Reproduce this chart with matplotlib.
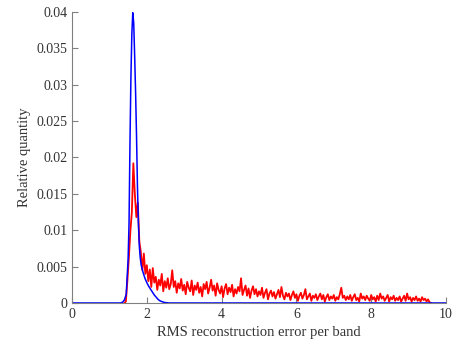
import numpy as np
import matplotlib
matplotlib.use("Agg")
import matplotlib.pyplot as plt

plt.rcParams['font.family'] = ['Liberation Serif', 'DejaVu Serif']

# Blue smooth distribution
blue_x = [0.0, 1.30, 1.35, 1.40, 1.45, 1.50, 1.525, 1.55, 1.575, 1.60, 1.625, 1.65,
          1.675, 1.70, 1.725, 1.75, 1.775, 1.80, 1.825, 1.85, 1.90, 1.95, 2.00,
          2.05, 2.10, 2.15, 2.20, 2.25, 2.30, 2.35, 2.40, 2.45, 2.50, 2.60, 10.0]
blue_y = [0.0, 0.0, 0.0001, 0.0004, 0.0012, 0.0060, 0.0110, 0.0220, 0.0310, 0.0370,
          0.0399, 0.0385, 0.0340, 0.0290, 0.0230, 0.0160, 0.0110, 0.0078, 0.0062,
          0.0052, 0.0042, 0.0034, 0.0028, 0.0023, 0.0019, 0.0015, 0.0011, 0.0008,
          0.0005, 0.0003, 0.0002, 0.0001, 0.00005, 0.0, 0.0]

# Red noisy histogram (bins of 0.04 starting at 1.40)
red_start = 1.40
red_step = 0.04
red_values = [
    0.0, 0.0002, 0.0030, 0.0062, 0.0098, 0.0125, 0.0192, 0.0150, 0.0118, 0.0138,
    0.0085, 0.0070, 0.0045, 0.0068, 0.0040, 0.0052, 0.0030, 0.0046, 0.0022, 0.0048,
    0.0028, 0.0036, 0.0018, 0.0032, 0.0024, 0.0040, 0.0016, 0.0030, 0.0021, 0.0034,
    0.0019, 0.0026, 0.0045, 0.0022, 0.0030, 0.0014, 0.0027, 0.0020, 0.0033, 0.0017,
    0.0025, 0.0012, 0.0029, 0.0021, 0.0016, 0.0031, 0.0011, 0.0024, 0.0018, 0.0028,
    0.0014, 0.0022, 0.0009, 0.0026, 0.0019, 0.0029, 0.0013, 0.0021, 0.0032, 0.0017,
    0.0024, 0.0010, 0.0027, 0.0018, 0.0013, 0.0023, 0.0008, 0.0020, 0.0026, 0.0012,
    0.0021, 0.0015, 0.0025, 0.0009, 0.0019, 0.0013, 0.0022, 0.0016, 0.0034, 0.0011,
    0.0018, 0.0024, 0.0010, 0.0020, 0.0007, 0.0017, 0.0023, 0.0012, 0.0019, 0.0009,
    0.0016, 0.0011, 0.0021, 0.0007, 0.0014, 0.0019, 0.0005, 0.0013, 0.0017, 0.0009,
    0.0015, 0.0006, 0.0012, 0.0018, 0.0008, 0.0022, 0.0010, 0.0005, 0.0014, 0.0009,
    0.0013, 0.0004, 0.0011, 0.0016, 0.0007, 0.0012, 0.0003, 0.0010, 0.0014, 0.0006,
    0.0011, 0.0019, 0.0005, 0.0009, 0.0013, 0.0003, 0.0010, 0.0007, 0.0012, 0.0004,
    0.0009, 0.0013, 0.0005, 0.0011, 0.0002, 0.0008, 0.0012, 0.0004, 0.0009, 0.0006,
    0.0011, 0.0003, 0.0008, 0.0005, 0.0012, 0.0021, 0.0007, 0.0010, 0.0004, 0.0009,
    0.0005, 0.0011, 0.0003, 0.0008, 0.0012, 0.0004, 0.0007, 0.0002, 0.0013, 0.0006,
    0.0009, 0.0004, 0.0010, 0.0006, 0.0003, 0.0011, 0.0005, 0.0008, 0.0002, 0.0010,
    0.0004, 0.0013, 0.0006, 0.0009, 0.0003, 0.0007, 0.0011, 0.0002, 0.0008, 0.0005,
    0.0010, 0.0003, 0.0007, 0.0004, 0.0009, 0.0002, 0.0006, 0.0010, 0.0003, 0.0013,
    0.0005, 0.0008, 0.0002, 0.0007, 0.0004, 0.0009, 0.0003, 0.0006, 0.0002, 0.0008,
    0.0004, 0.0006, 0.0002, 0.0005, 0.0001, 0.0,
]

x_ticks = [0, 2, 4, 6, 8, 10]
y_ticks = [0, 0.005, 0.01, 0.015, 0.02, 0.025, 0.03, 0.035, 0.04]
y_tick_labels = ['0', '0.005', '0.01', '0.015', '0.02', '0.025', '0.03', '0.035', '0.04']

red_x = red_start + red_step * np.arange(len(red_values))

fig = plt.figure(figsize=(4.54, 3.51), dpi=100)
ax = fig.add_axes([0.1586, 0.1368, 0.8238, 0.829])

ax.plot(red_x, red_values, color='#ff0000', lw=1.3)
ax.plot(blue_x, blue_y, color='#0000ff', lw=1.1)

ax.set_xlim(0, 10)
ax.set_ylim(0, 0.04)
ax.set_xticks(x_ticks)
ax.set_yticks(y_ticks)
ax.set_yticklabels(y_tick_labels)

for s in ['top', 'right']:
    ax.spines[s].set_visible(False)
for s in ['left', 'bottom']:
    ax.spines[s].set_color('#808080')
    ax.spines[s].set_linewidth(0.8)
ax.tick_params(direction='in', length=4, width=0.8, color='#808080',
               labelsize=10, labelcolor='#333333')

ax.set_xlabel('RMS reconstruction error per band', fontsize=10.5, color='#333333')
ax.set_ylabel('Relative quantity', fontsize=10.5, color='#333333')

fig.savefig('out.png', dpi=100)
